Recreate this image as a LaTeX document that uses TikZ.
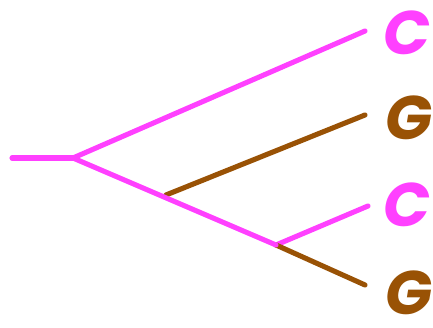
\documentclass[tikz,border=0pt]{standalone}
\usepackage{fontspec}
\setmainfont{Poppins}
\definecolor{pinkline}{RGB}{255,64,255}
\definecolor{brownline}{RGB}{153,82,5}

\begin{document}
\begin{tikzpicture}[x=0.01cm,y=-0.01cm,line cap=round]

% Frame (pixel units, y down)
\useasboundingbox (0,0) rectangle (433,328);

\tikzset{
  branch/.style={line width=1.45pt},
  base/.style={font=\fontsize{17.5}{17.5}\selectfont\bfseries\itshape,inner sep=0pt}
}

% Junctions
\coordinate (root) at (12,158);
\coordinate (j1) at (73,158);
\coordinate (j2) at (166,195);
\coordinate (j3) at (276,245);

% Leaf ends
\coordinate (e1) at (365,31);
\coordinate (e2) at (365,115);
\coordinate (e3) at (368,206);
\coordinate (e4) at (365,285);

% Labels
\node[base,text=pinkline] (c1) at (407,33) {C};
\node[base,text=brownline] (g1) at (409,118) {G};
\node[base,text=pinkline] (c2) at (407,205) {C};
\node[base,text=brownline] (g2) at (409,293) {G};

% Branches
\draw[branch,pinkline] (root) -- (j1);
\draw[branch,pinkline] (j1) -- (e1);
\draw[branch,brownline] (j2) -- (e2);
\draw[branch,pinkline] (j3) -- (e3);
\draw[branch,brownline] (j3) -- (e4);
\draw[branch,pinkline] (j1) -- (j3);

\end{tikzpicture}
\end{document}
